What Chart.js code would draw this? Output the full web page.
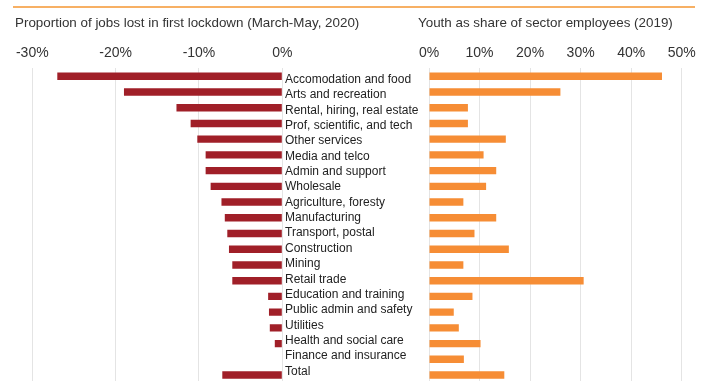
<!DOCTYPE html>
<html>
<head>
<meta charset="utf-8">
<script src="https://cdn.jsdelivr.net/npm/chart.js@4"></script>
<style>
  html, body { margin: 0; padding: 0; width: 705px; height: 381px; overflow: hidden; background: #fff; }
  #wrap { position: relative; width: 705px; height: 381px; overflow: hidden; }
  canvas { position: absolute; left: 0; top: 0; z-index: 1; }
  .rule { position: absolute; left: 13px; top: 6px; width: 682px; height: 2px; background: #f7b064; z-index: 2; }
  .ttl { position: absolute; top: 15px; font: 13.4px "Liberation Sans", Arial, Helvetica, sans-serif; color: #333; white-space: nowrap; z-index: 2; }
</style>
</head>
<body>
<div id="wrap">
  <div class="rule"></div>
  <div class="ttl" style="left:15px">Proportion of jobs lost in first lockdown (March-May, 2020)</div>
  <div class="ttl" style="left:418px">Youth as share of sector employees (2019)</div>
  <canvas id="lost" width="705" height="392"></canvas>
  <canvas id="youth" width="705" height="392"></canvas>
</div>
<script>
// Industry sectors, top to bottom
const sectors = [
  'Accomodation and food', 'Arts and recreation', 'Rental, hiring, real estate',
  'Prof, scientific, and tech', 'Other services', 'Media and telco', 'Admin and support',
  'Wholesale', 'Agriculture, foresty', 'Manufacturing', 'Transport, postal', 'Construction',
  'Mining', 'Retail trade', 'Education and training', 'Public admin and safety', 'Utilities',
  'Health and social care', 'Finance and insurance', 'Total'
];

// Change in jobs during the first lockdown, March-May 2020 (%)
const jobsLost = [
  -27.0, -19.0, -12.7, -11.0, -10.2, -9.2, -9.2, -8.6, -7.3, -6.9,
  -6.6, -6.4, -6.0, -6.0, -1.7, -1.6, -1.5, -0.9, 0, -7.2
];

// Youth share of each sector's employees, 2019 (%)
const youthShare = [
  46.1, 26.0, 7.7, 7.7, 15.2, 10.8, 13.3, 11.3, 6.8, 13.3,
  9.0, 15.8, 6.8, 30.6, 8.6, 4.9, 5.9, 10.2, 6.9, 14.9
];

// Axis tick values (%)
const lostTicks = [-30, -20, -10, 0];
const youthTicks = [0, 10, 20, 30, 40, 50];

const FONT = '"Liberation Sans", Arial, Helvetica, sans-serif';
const TEXT = '#333333';
const GRID = '#e4e4e4';
const PAD_TOP = 37.6;
const PAD_BOTTOM = 9.1;

// Index range of the sector-name axis (a touch tighter than the bar rows)
const NAME_MIN = -0.74;
const NAME_MAX = 19.76;

Chart.defaults.font.family = FONT;
Chart.defaults.color = TEXT;

function pctAxis(min, max, tickVals) {
  return {
    type: 'linear',
    position: 'top',
    min: min,
    max: max,
    afterBuildTicks: (scale) => { scale.ticks = tickVals.map(v => ({ value: v })); },
    ticks: {
      font: { size: 14 },
      color: TEXT,
      padding: 7,
      maxRotation: 0,
      callback: (v) => v + '%'
    },
    grid: { color: GRID, lineWidth: 1, drawTicks: false },
    border: { display: false }
  };
}

// Left panel: jobs lost
new Chart(document.getElementById('lost'), {
  type: 'bar',
  data: {
    labels: sectors,
    datasets: [{
      data: jobsLost,
      backgroundColor: '#a01f28',
      barPercentage: 0.47,
      categoryPercentage: 1.0
    }]
  },
  options: {
    indexAxis: 'y',
    responsive: false,
    animation: false,
    layout: { padding: { top: PAD_TOP, left: 32.3, right: 422.7, bottom: PAD_BOTTOM } },
    plugins: { legend: { display: false }, tooltip: { enabled: false } },
    scales: {
      x: pctAxis(-30, 0, lostTicks),
      y: { display: false, grid: { display: false } }
    }
  }
});

// Right panel: youth share, with the sector names on their own index axis
new Chart(document.getElementById('youth'), {
  type: 'bar',
  data: {
    labels: sectors,
    datasets: [{
      data: youthShare,
      backgroundColor: '#f68d35',
      barPercentage: 0.47,
      categoryPercentage: 1.0
    }]
  },
  options: {
    indexAxis: 'y',
    responsive: false,
    animation: false,
    layout: { padding: { top: PAD_TOP, left: 285, right: 23.3, bottom: PAD_BOTTOM } },
    plugins: { legend: { display: false }, tooltip: { enabled: false } },
    scales: {
      x: pctAxis(0, 50, youthTicks),
      y: { display: false, grid: { display: false } },
      names: {
        type: 'linear',
        position: 'left',
        reverse: true,
        offset: false,
        bounds: 'data',
        grace: 0,
        min: NAME_MIN,
        max: NAME_MAX,
        afterBuildTicks: (scale) => {
          scale.ticks = sectors.map((s, i) => ({ value: i }));
          scale.min = NAME_MIN;
          scale.max = NAME_MAX;
        },
        afterFit: (scale) => { scale.width = 144; },
        ticks: {
          crossAlign: 'far',
          font: { size: 12 },
          color: '#222',
          padding: 0,
          autoSkip: false,
          callback: (v) => sectors[v]
        },
        grid: { display: false, drawTicks: false, offset: false },
        border: { display: false }
      }
    }
  }
});
</script>
</body>
</html>
